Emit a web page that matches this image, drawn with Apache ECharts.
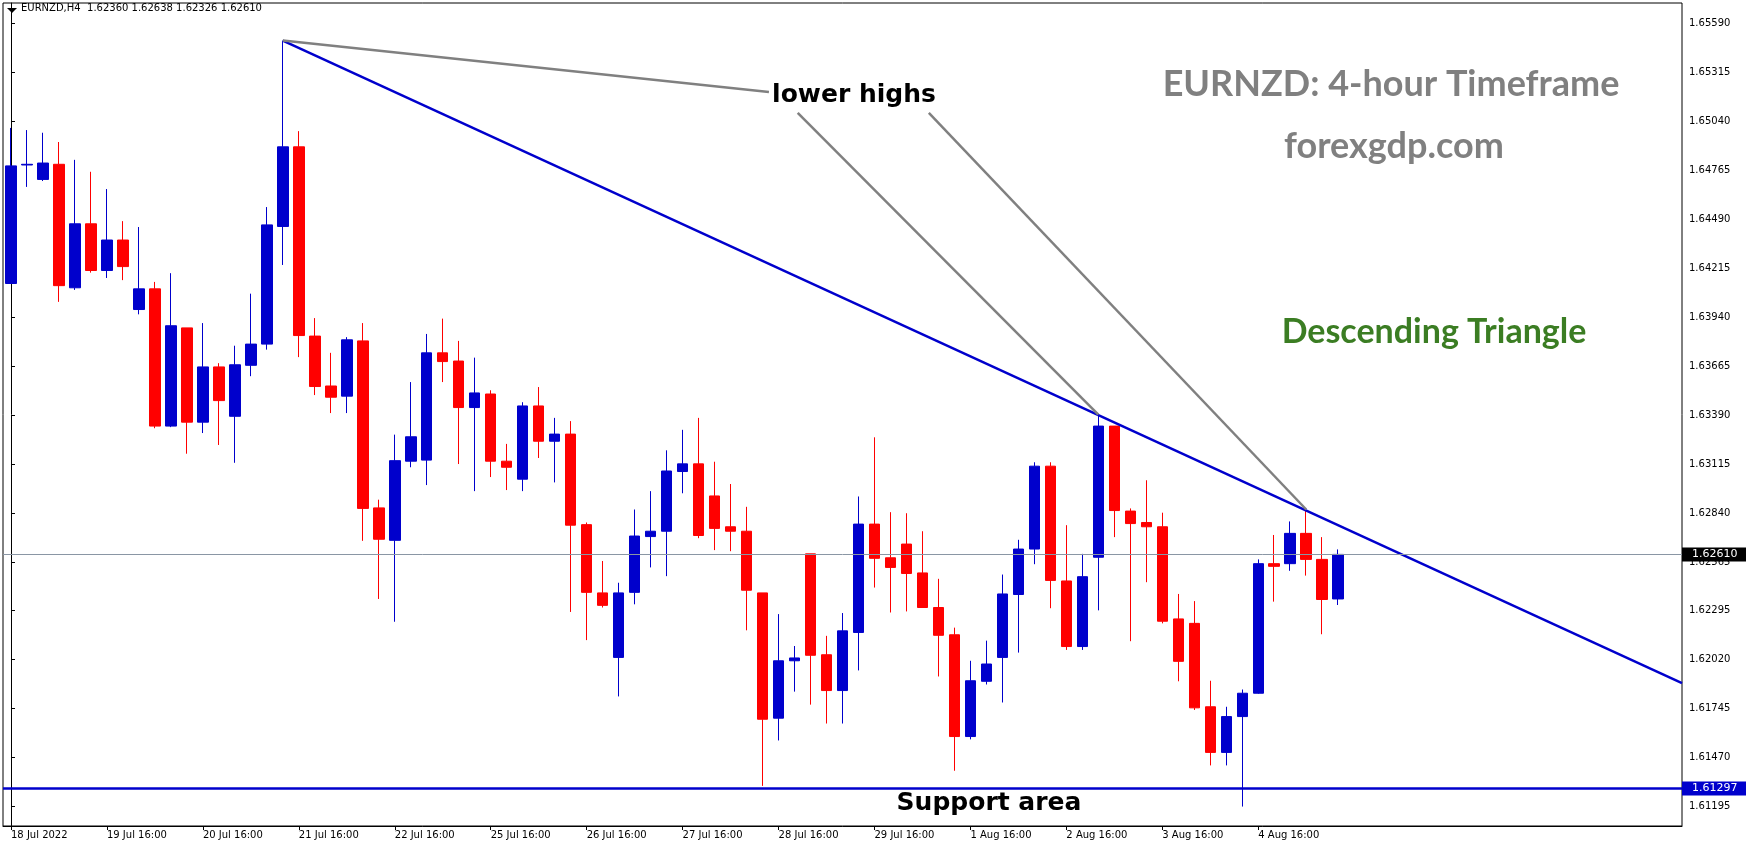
<!DOCTYPE html>
<html>
<head>
<meta charset="utf-8">
<script src="https://cdn.jsdelivr.net/npm/echarts@6/dist/echarts.min.js"></script>
<style>html,body{margin:0;padding:0;background:#fff}#chart{width:1746px;height:850px}</style>
</head>
<body>
<div id="chart"></div>
<script>
// candles: [open, close, low, high]
var candles = [
  [1.64130,1.64790,1.64130,1.65003],[1.64795,1.64799,1.64672,1.64991],[1.64714,1.64806,1.64705,1.64976],
  [1.64799,1.64118,1.64027,1.64924],[1.64106,1.64465,1.64094,1.64824],[1.64465,1.64203,1.64191,1.64757],
  [1.64203,1.64374,1.64161,1.64660],[1.64374,1.64225,1.64149,1.64480],[1.63984,1.64100,1.63957,1.64447],
  [1.64100,1.63330,1.63318,1.64139],[1.63330,1.63893,1.63324,1.64188],[1.63881,1.63352,1.63175,1.63881],
  [1.63352,1.63662,1.63291,1.63908],[1.63662,1.63473,1.63224,1.63683],[1.63385,1.63674,1.63124,1.63781],
  [1.63671,1.63790,1.63610,1.64073],[1.63790,1.64459,1.63759,1.64559],[1.64450,1.64897,1.64234,1.65493],
  [1.64897,1.63838,1.63717,1.64985],[1.63835,1.63552,1.63504,1.63936],[1.63555,1.63492,1.63403,1.63741],
  [1.63498,1.63814,1.63403,1.63829],[1.63808,1.62868,1.62686,1.63908],[1.62871,1.62695,1.62360,1.62917],
  [1.62689,1.63136,1.62232,1.63282],[1.63133,1.63270,1.63099,1.63577],[1.63139,1.63741,1.62999,1.63847],
  [1.63741,1.63692,1.63577,1.63933],[1.63695,1.63434,1.63117,1.63808],[1.63434,1.63516,1.62965,1.63714],
  [1.63510,1.63133,1.63044,1.63531],[1.63133,1.63099,1.62971,1.63230],[1.63032,1.63443,1.62965,1.63464],
  [1.63443,1.63245,1.63151,1.63549],[1.63245,1.63285,1.63014,1.63376],[1.63285,1.62774,1.62287,1.63358],
  [1.62777,1.62397,1.62129,1.62789],[1.62394,1.62324,1.62312,1.62573],[1.62032,1.62394,1.61813,1.62451],
  [1.62397,1.62713,1.62330,1.62862],[1.62710,1.62740,1.62537,1.62965],[1.62740,1.63078,1.62488,1.63194],
  [1.63075,1.63118,1.62953,1.63309],[1.63118,1.62716,1.62701,1.63376],[1.62938,1.62756,1.62634,1.63130],
  [1.62765,1.62740,1.62628,1.63005],[1.62740,1.62409,1.62184,1.62877],[1.62394,1.61685,1.61311,1.62394],
  [1.61691,1.62013,1.61566,1.62275],[1.62013,1.62029,1.61840,1.62096],[1.62613,1.62044,1.61767,1.62613],
  [1.62047,1.61846,1.61661,1.62153],[1.61846,1.62181,1.61661,1.62281],[1.62172,1.62780,1.61959,1.62935],
  [1.62780,1.62588,1.62424,1.63267],[1.62591,1.62537,1.62284,1.62847],[1.62668,1.62503,1.62290,1.62841],
  [1.62506,1.62312,1.62312,1.62740],[1.62312,1.62156,1.61925,1.62473],[1.62159,1.61588,1.61396,1.62199],
  [1.61588,1.61901,1.61572,1.62013],[1.61898,1.61995,1.61880,1.62126],[1.62032,1.62388,1.61779,1.62497],
  [1.62385,1.62640,1.62059,1.62692],[1.62640,1.63105,1.62555,1.63127],[1.63105,1.62464,1.62308,1.63127],
  [1.62461,1.62093,1.62074,1.62774],[1.62093,1.62485,1.62074,1.62613],[1.62594,1.63330,1.62296,1.63394],
  [1.63330,1.62856,1.62707,1.63330],[1.62853,1.62783,1.62123,1.62868],[1.62789,1.62765,1.62454,1.63026],
  [1.62765,1.62235,1.62223,1.62844],[1.62248,1.62010,1.61898,1.62388],[1.62223,1.61749,1.61737,1.62348],
  [1.61755,1.61499,1.61426,1.61901],[1.61499,1.61700,1.61426,1.61755],[1.61700,1.61831,1.61195,1.61852],
  [1.61831,1.62558,1.61828,1.62582],[1.62558,1.62543,1.62345,1.62719],[1.62558,1.62728,1.62518,1.62795],
  [1.62728,1.62582,1.62491,1.62862],[1.62582,1.62357,1.62162,1.62707],[1.62360,1.62610,1.62326,1.62638]
];
var slotCount = 105;
var dateLabels = ['18 Jul 2022','19 Jul 16:00','20 Jul 16:00','21 Jul 16:00','22 Jul 16:00','25 Jul 16:00',
  '26 Jul 16:00','27 Jul 16:00','28 Jul 16:00','29 Jul 16:00','1 Aug 16:00','2 Aug 16:00','3 Aug 16:00','4 Aug 16:00'];
var priceTicks = [1.65590,1.65315,1.65040,1.64765,1.64490,1.64215,1.63940,1.63665,1.63390,1.63115,
  1.62840,1.62565,1.62295,1.62020,1.61745,1.61470,1.61195];
var trendLine = [[17,1.65493],[104.5,1.61888]];
var pointerLines = [
  [[17,1.65493],[47.4,1.65204]],
  [[49.2,1.65088],[68,1.63394]],
  [[57.4,1.65088],[81,1.62862]]
];
var lastPrice = 1.62610;
var supportPrice = 1.61297;

var categories = [];
for (var i = 0; i < slotCount; i++) categories.push(i);

function priceLabel(bg) {
  return {position: 'end', backgroundColor: bg, color: '#fff', fontFamily: 'DejaVu Sans', fontSize: 11,
    padding: [2, 12, 1, 10], distance: 0, formatter: function (p) { return p.value.toFixed(5); }};
}

var series = [{
  type: 'candlestick',
  data: candles,
  barWidth: 11,
  itemStyle: {color: '#0000CC', color0: '#FF0000', borderColor: '#0000CC', borderColor0: '#FF0000', borderWidth: 1}
}, {
  type: 'line', xAxisIndex: 1, data: trendLine, symbol: 'none', silent: true,
  lineStyle: {color: '#0000CC', width: 2.5},
  markLine: {
    symbol: 'none', silent: true, animation: false, precision: 5,
    data: [
      {yAxis: lastPrice, lineStyle: {color: '#8a96a4', width: 1, type: 'solid'}, label: priceLabel('#000')},
      {yAxis: supportPrice, lineStyle: {color: '#0000CC', width: 2.5, type: 'solid'}, label: priceLabel('#0000CC')}
    ]
  }
}];
pointerLines.forEach(function (seg) {
  series.push({type: 'line', xAxisIndex: 1, data: seg, symbol: 'none', silent: true,
    lineStyle: {color: '#808080', width: 2.5}});
});

var chart = echarts.init(document.getElementById('chart'));
chart.setOption({
  animation: false,
  backgroundColor: '#fff',
  grid: {left: 3, right: 64, top: 3, bottom: 24, show: true, borderColor: '#000', borderWidth: 1},
  xAxis: [{
    type: 'category', data: categories, boundaryGap: true,
    axisLine: {lineStyle: {color: '#000'}},
    axisTick: {show: true, alignWithLabel: true, length: 4, lineStyle: {color: '#000'}, interval: function (idx) { return idx % 6 === 0 && idx <= 78; }},
    axisLabel: {
      interval: function (idx) { return idx % 6 === 0 && idx <= 78; },
      formatter: function (v, idx) { return dateLabels[idx / 6] || ''; },
      align: 'left', margin: 4, color: '#000', fontFamily: 'DejaVu Sans', fontSize: 10
    },
    splitLine: {show: false}
  }, {
    type: 'value', min: -0.5, max: slotCount - 0.5, show: false
  }],
  yAxis: {
    type: 'value', position: 'right', min: 1.61086, max: 1.65704,
    axisLine: {show: true, lineStyle: {color: '#000'}},
    axisTick: {show: true, length: 4, customValues: priceTicks, lineStyle: {color: '#000'}},
    axisLabel: {customValues: priceTicks, formatter: function (v) { return v.toFixed(5); },
      color: '#000', fontFamily: 'DejaVu Sans', fontSize: 10, margin: 7},
    splitLine: {show: false}
  },
  series: series,
  graphic: [
    {type: 'polygon', shape: {points: [[7, 8], [17, 8], [12, 13]]}, style: {fill: '#000'}},
    {type: 'text', left: 21, top: 3, style: {text: 'EURNZD,H4  1.62360 1.62638 1.62326 1.62610', font: '10px "DejaVu Sans"', fill: '#000'}},
    {type: 'text', x: 854, y: 95, style: {text: 'lower highs', font: 'bold 25px "DejaVu Sans"', fill: '#000', align: 'center', verticalAlign: 'middle'}},
    {type: 'text', x: 1391, y: 84, style: {text: 'EURNZD: 4-hour Timeframe', font: 'bold 36px Lato', fill: '#808080', align: 'center', verticalAlign: 'middle'}},
    {type: 'text', x: 1394, y: 146, style: {text: 'forexgdp.com', font: 'bold 36px Lato', fill: '#808080', align: 'center', verticalAlign: 'middle'}},
    {type: 'text', x: 1434, y: 332, style: {text: 'Descending Triangle', font: 'bold 34px Lato', fill: '#3b7d23', align: 'center', verticalAlign: 'middle'}},
    {type: 'text', x: 989, y: 803, style: {text: 'Support area', font: 'bold 25px "DejaVu Sans"', fill: '#000', align: 'center', verticalAlign: 'middle'}}
  ]
});
</script>
</body>
</html>
